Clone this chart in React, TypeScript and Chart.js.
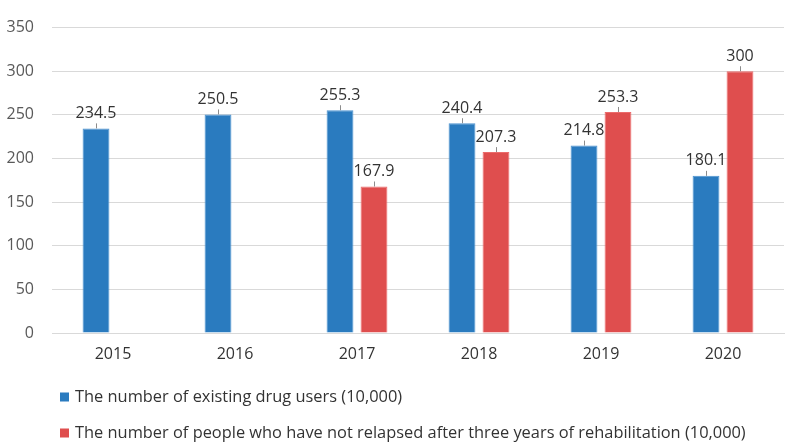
import { useEffect, useRef } from "react";
import { Chart, registerables } from "chart.js";

Chart.register(...registerables);

const years = ["2015", "2016", "2017", "2018", "2019", "2020"];
const drugUsers = [234.5, 250.5, 255.3, 240.4, 214.8, 180.1];
const notRelapsed = [null, null, 167.9, 207.3, 253.3, 300];
const seriesLabels = [
  "The number of existing drug users (10,000)",
  "The number of people who have not relapsed after three years of rehabilitation (10,000)",
];
const seriesColors = ["#2a7bbf", "#df4e4e"];
const seriesBorders = ["#4b92d0", "#ec6b6b"];
const yMin = 0;
const yMax = 350;
const yStep = 50;

const FONT = "'Open Sans', Lato, sans-serif";

const valueLabels = {
  id: "valueLabels",
  afterDatasetsDraw(chart: any) {
    const ctx = chart.ctx;
    ctx.save();
    ctx.font = `16px ${FONT}`;
    ctx.fillStyle = "#333333";
    ctx.textAlign = "center";
    ctx.textBaseline = "middle";
    chart.data.datasets.forEach((ds: any, i: number) => {
      const meta = chart.getDatasetMeta(i);
      meta.data.forEach((bar: any, j: number) => {
        const v = ds.data[j];
        if (v == null) return;
        const x = bar.x;
        const y = bar.y;
        ctx.strokeStyle = "#8c8c8c";
        ctx.lineWidth = 1;
        ctx.beginPath();
        ctx.moveTo(Math.round(x) + 0.5, y);
        ctx.lineTo(Math.round(x) + 0.5, y - 5);
        ctx.stroke();
        ctx.fillText(String(v), x, y - 15);
      });
    });
    ctx.restore();
  },
};

const customLegend = {
  id: "customLegend",
  afterDraw(chart: any) {
    const ctx = chart.ctx;
    const area = chart.chartArea;
    ctx.save();
    ctx.font = `16.4px ${FONT}`;
    ctx.textAlign = "left";
    ctx.textBaseline = "middle";
    const rows = [area.bottom + 64, area.bottom + 100];
    chart.data.datasets.forEach((ds: any, i: number) => {
      const cy = rows[i];
      const x0 = area.left + 8;
      ctx.fillStyle = seriesColors[i];
      ctx.fillRect(x0, cy - 4.5, 9, 9);
      ctx.fillStyle = "#333333";
      ctx.fillText(ds.label, x0 + 15, cy);
    });
    ctx.restore();
  },
};

export default function App() {
  const ref = useRef<HTMLCanvasElement | null>(null);
  useEffect(() => {
    if (!ref.current) return;
    const chart = new Chart(ref.current, {
      type: "bar",
      data: {
        labels: years,
        datasets: [
          {
            label: seriesLabels[0],
            data: drugUsers,
            backgroundColor: seriesColors[0],
            borderColor: seriesBorders[0],
            borderWidth: 1,
            categoryPercentage: 0.557,
            barPercentage: 0.79,
          },
          {
            label: seriesLabels[1],
            data: notRelapsed as any,
            backgroundColor: seriesColors[1],
            borderColor: seriesBorders[1],
            borderWidth: 1,
            categoryPercentage: 0.557,
            barPercentage: 0.79,
          },
        ],
      },
      options: {
        animation: false,
        responsive: true,
        maintainAspectRatio: false,
        layout: { padding: { top: 13, right: 13, bottom: 75, left: 0 } },
        plugins: {
          legend: { display: false },
          tooltip: { enabled: false },
        },
        scales: {
          y: {
            min: yMin,
            max: yMax,
            ticks: {
              stepSize: yStep,
              font: { size: 16, family: FONT },
              color: "#595959",
              padding: 18,
            },
            grid: { color: "#d9d9d9", drawTicks: false, lineWidth: 1 },
            border: { display: false },
            afterFit: (s: any) => {
              s.width = 52;
            },
          },
          x: {
            grid: { display: false, drawTicks: false },
            border: { display: true, color: "#d9d9d9" },
            ticks: {
              font: { size: 16, family: FONT },
              color: "#333333",
              padding: 12,
            },
            afterFit: (s: any) => {
              s.height = 40;
            },
          },
        },
      },
      plugins: [valueLabels, customLegend],
    });
    return () => chart.destroy();
  }, []);
  return (
    <div style={{ position: "fixed", left: 0, top: 0, width: 797, height: 448, background: "#fff" }}>
      <canvas ref={ref} />
    </div>
  );
}
